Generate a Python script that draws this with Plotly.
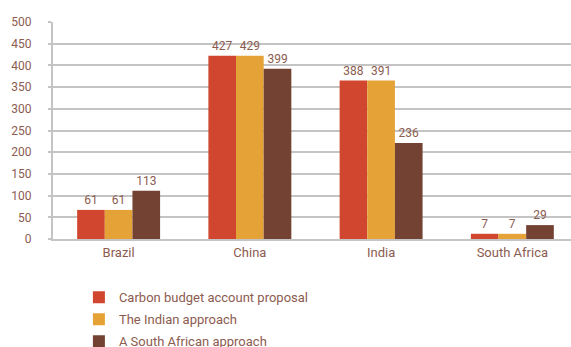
import plotly.graph_objects as go

categories = ["Brazil", "China", "India", "South Africa"]
series_names = ["Carbon budget account proposal", "The Indian approach", "A South African approach"]
# bar heights as drawn in the picture
carbon_budget = [67, 422, 365, 12]
indian_approach = [67, 422, 365, 12]
south_african = [111, 392, 221, 32]
# value labels printed above the bars
carbon_budget_labels = ["61", "427", "388", "7"]
indian_approach_labels = ["61", "429", "391", "7"]
south_african_labels = ["113", "399", "236", "29"]
y_ticks = [0, 50, 100, 150, 200, 250, 300, 350, 400, 450, 500]

colors = ["#D1462F", "#E5A236", "#744232"]
text_color = "#8C5C50"
grid_color = "#C4C4C4"
font_family = "Roboto, Open Sans, sans-serif"

fig = go.Figure()
for name, vals, labs, col in zip(series_names,
                                 [carbon_budget, indian_approach, south_african],
                                 [carbon_budget_labels, indian_approach_labels, south_african_labels],
                                 colors):
    fig.add_trace(go.Bar(
        x=categories, y=vals, name=name, marker_color=col, marker_line_width=0,
        text=labs, textposition="outside", cliponaxis=False,
        textfont=dict(color=text_color, size=12, family=font_family),
        legendgroup=name,
    ))

fig.update_layout(
    width=571, height=347,
    margin=dict(l=53, r=0, t=22, b=108, autoexpand=False),
    paper_bgcolor="white", plot_bgcolor="white",
    barmode="group", bargap=0.368, bargroupgap=0,
    font=dict(family=font_family, color=text_color, size=12),
    showlegend=True,
    legend=dict(x=0.05, xanchor="left", y=-0.2, yanchor="top",
                font=dict(size=13, color=text_color, family=font_family),
                tracegroupgap=2, bgcolor="rgba(0,0,0,0)"),
)
fig.update_xaxes(
    range=[-0.5, 3.447], showline=True, linecolor=grid_color, linewidth=2,
    showgrid=False, ticks="", tickfont=dict(size=13, color=text_color),
)
fig.update_yaxes(
    range=[0, 500], tickvals=y_ticks, showgrid=True, gridcolor=grid_color, gridwidth=1.5,
    showline=True, linecolor=grid_color, linewidth=2,
    ticks="outside", ticklen=3, tickcolor=grid_color, tickwidth=1.5,
    ticklabelstandoff=14, zeroline=False,
    tickfont=dict(size=12, color=text_color),
)

fig.write_html("out.html")
